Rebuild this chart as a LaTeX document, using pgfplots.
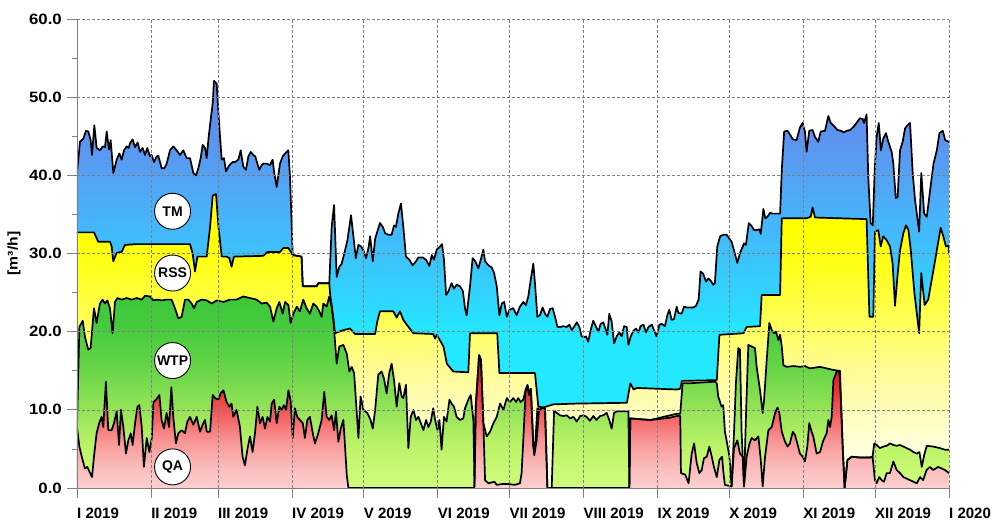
\documentclass[border=0pt]{standalone}
\usepackage{fontspec}
\setmainfont{Liberation Sans}
\newfontfamily\widefont[FakeStretch=1.12]{Liberation Sans}
\usepackage{pgfplots}
\usepackage{pgfplotstable}
\pgfplotsset{compat=1.18}

% vertical shadings: 25bp = y 0, 75bp = maximum of each line
\pgfdeclareverticalshading{qashade}{100bp}{rgb(0bp)=(0.988,0.816,0.816); rgb(25bp)=(0.988,0.816,0.816); rgb(33.8bp)=(0.980,0.725,0.725); rgb(42.6bp)=(0.973,0.588,0.588); rgb(51.5bp)=(0.961,0.392,0.392); rgb(60.3bp)=(0.933,0.216,0.216); rgb(69.1bp)=(0.894,0.098,0.098); rgb(100bp)=(0.894,0.098,0.098)}
\pgfdeclareverticalshading{wtpshade}{100bp}{rgb(0bp)=(0.816,0.988,0.490); rgb(25bp)=(0.816,0.988,0.490); rgb(35.2bp)=(0.745,0.957,0.412); rgb(45.3bp)=(0.588,0.894,0.345); rgb(55.5bp)=(0.412,0.839,0.282); rgb(65.7bp)=(0.282,0.800,0.243); rgb(75bp)=(0.235,0.776,0.227); rgb(100bp)=(0.235,0.776,0.227)}
\pgfdeclareverticalshading{rssshade}{100bp}{rgb(0bp)=(1,1,0.933); rgb(25bp)=(1,1,0.933); rgb(31.6bp)=(1,1,0.863); rgb(38.3bp)=(1,0.988,0.725); rgb(44.9bp)=(1,0.988,0.588); rgb(51.6bp)=(1,1,0.392); rgb(62.2bp)=(1,1,0.118); rgb(68.9bp)=(1,1,0); rgb(100bp)=(1,1,0)}
\pgfdeclareverticalshading{tmshade}{100bp}{rgb(0bp)=(0.137,0.910,1); rgb(44.2bp)=(0.137,0.910,1); rgb(49bp)=(0.196,0.824,0.988); rgb(58.6bp)=(0.282,0.698,0.980); rgb(65.3bp)=(0.345,0.608,0.949); rgb(71.1bp)=(0.373,0.549,0.933); rgb(100bp)=(0.373,0.549,0.933)}

% day of year, cumulative level [m3/h]
\pgfplotstableread{
x y
0 40.3
1.26 44.3
2.65 44.7
3.77 45.7
4.74 45.6
5.72 44.5
6.28 42.6
7.26 46.4
8.23 43.5
9.63 43.2
10.74 43.7
11.72 43.6
12.42 45.6
13.39 43.3
14.09 44.5
15.21 40.3
16.6 42.0
17.72 42.8
18.7 42.0
19.67 43.2
20.79 43.7
21.63 43.5
22.19 44.1
23.3 44.6
24.28 43.6
25.39 44.2
26.37 43.0
27.49 43.5
28.46 42.6
29.44 43.5
30.56 42.4
31.25 42.6
32.23 41.7
33.35 42.4
34.05 42.5
35.44 40.9
36.56 40.9
37.53 41.5
38.93 43.2
40.32 43.7
41.72 43.2
43.11 42.6
44.51 43.2
45.9 42.2
47.3 42.2
48.7 40.3
49.81 40.0
50.79 40.9
51.77 42.2
52.6 43.9
53.58 43.5
54.28 42.2
55.11 44.9
55.95 47.1
56.79 49.2
57.35 52.1
58.46 51.7
59.58 46.2
60.56 42.0
61.53 42.2
62.37 40.5
63.77 41.3
65.17 41.7
66.14 41.7
67.53 42.0
68.51 43.2
69.63 41.1
70.74 40.7
71.72 42.4
72.7 43.0
73.81 42.6
74.65 42.4
75.49 41.5
76.32 40.7
77.3 41.3
78.0 41.5
79.39 41.5
80.79 41.3
81.9 42.0
82.46 40.5
83.58 38.5
84.97 41.5
86.09 42.4
87.07 42.8
88.46 43.2
89.16 39.8
90.3 29.8
94.0 29.6
94.5 25.8
100.3 25.8
101.0 26.2
105.6 26.2
106.6 33.4
107.6 36.2
108.7 27.0
109.8 28.3
110.8 28.7
112.2 30.4
113.2 31.7
114.7 34.9
115.7 32.2
116.7 29.4
117.8 31.1
118.9 30.9
119.9 30.4
121.0 29.4
122.0 30.7
122.7 32.2
123.8 29.0
124.8 31.9
125.7 32.8
126.8 33.9
128.0 33.4
129.0 32.6
130.3 32.4
131.7 32.4
132.7 33.6
133.5 33.4
134.5 35.1
135.6 36.4
136.6 33.4
137.7 29.6
139.1 29.2
140.5 28.5
141.9 29.0
142.9 29.5
144.7 29.5
146.1 29.2
147.5 28.4
148.5 29.8
149.4 29.2
150.6 30.5
151.7 30.8
152.8 31.2
153.6 29.2
154.5 24.7
155.4 25.1
156.8 26.2
157.8 25.5
158.9 26.0
160.3 25.8
161.5 25.2
162.4 23.0
163.1 22.1
164.5 25.8
165.6 29.4
166.7 29.0
168.0 28.1
169.0 29.2
170.1 30.5
170.8 29.0
172.2 28.5
173.6 28.2
174.6 27.5
175.7 25.8
176.8 22.1
177.8 23.6
178.8 23.8
179.9 21.9
181.0 22.8
182.6 23.0
184.0 22.1
185.4 23.2
186.8 23.8
187.9 23.4
188.9 24.5
189.9 26.6
191.0 28.7
191.7 26.2
192.7 21.9
193.8 22.1
194.9 23.1
195.9 22.3
196.9 21.9
198.0 22.9
199.1 23.0
200.1 21.9
201.1 20.6
202.2 20.6
203.6 20.7
205.0 20.6
206.1 20.9
207.1 20.2
208.0 20.6
209.2 21.2
210.3 20.6
211.2 19.4
212.2 19.3
213.1 19.4
214.0 18.7
215.0 20.2
216.1 21.4
217.3 20.6
218.2 20.0
219.2 21.0
220.3 21.2
221.4 20.2
222.0 19.6
222.8 22.3
223.8 21.3
224.8 18.5
225.9 19.4
227.0 19.9
228.0 19.4
229.0 20.7
230.1 20.6
230.8 18.3
231.8 19.4
232.9 20.1
234.0 20.4
235.0 19.9
235.9 20.7
237.1 20.9
238.2 19.9
239.2 20.6
240.6 20.9
241.5 20.2
242.6 19.4
243.8 20.9
244.7 21.0
246.1 20.7
247.1 22.1
247.9 22.8
248.9 21.5
249.9 21.6
251.0 23.2
251.7 22.4
253.1 22.3
254.1 23.2
255.2 23.1
256.6 23.1
258.0 23.1
259.1 23.3
260.2 24.1
261.0 27.7
262.1 27.4
263.3 26.4
264.3 26.8
265.3 26.5
266.3 26.0
267.0 26.2
268.0 30.9
269.2 32.2
270.5 32.4
271.9 32.4
274.0 31.5
275.0 30.4
276.4 28.8
277.5 30.0
279.2 31.3
280.0 31.1
281.2 33.9
282.4 33.5
283.4 33.0
284.5 33.0
285.6 33.1
286.2 32.5
287.3 35.7
288.1 34.5
289.0 34.7
290.1 35.2
291.2 35.1
292.9 35.1
294.3 35.1
295.0 40.7
296.0 45.6
297.4 45.7
298.5 45.2
299.6 44.6
301.2 44.5
302.6 46.1
303.7 46.7
304.7 45.6
305.4 43.0
306.5 45.7
307.9 45.8
308.9 44.9
310.3 44.3
311.3 45.6
313.1 45.7
314.5 47.6
315.5 46.7
316.9 46.3
318.3 45.8
319.7 45.7
321.0 45.5
322.2 45.7
323.6 45.8
325.0 46.2
326.3 46.7
327.7 47.3
328.9 47.2
329.4 46.7
330.5 47.8
331.2 39.8
332.2 33.9
333.1 33.6
333.9 40.7
334.7 44.9
335.6 46.7
336.5 43.2
337.5 44.7
338.6 45.4
339.6 44.3
341.0 43.0
341.7 41.5
342.7 37.1
343.5 37.2
344.5 43.2
345.6 44.3
346.6 46.0
347.6 46.4
348.7 46.7
349.8 40.3
350.8 36.8
352.5 32.8
353.4 40.3
354.6 35.1
355.7 34.7
357.1 38.1
358.5 41.5
359.9 43.2
361.0 45.4
362.4 45.7
363.4 44.5
364.8 44.3
365 44.2
}\tmdata

\pgfplotstableread{
x y
0 32.7
7.1 32.7
8.9 31.5
13.8 31.5
14.5 30.9
15.2 29.0
16.6 30.1
18.7 30.2
20.1 31.1
25.0 31.2
47.3 31.2
48.4 30.0
49.4 27.7
50.4 29.6
54.3 29.6
55.7 33.4
56.8 37.4
58.2 37.6
59.2 33.4
60.6 29.6
62.6 29.6
63.8 29.4
64.7 28.3
65.7 29.6
78.0 29.7
79.7 30.2
85.0 30.2
86.4 30.7
88.5 30.7
90.3 29.8
94.0 29.6
94.5 25.8
100.3 25.8
101.0 26.2
105.6 26.2
106.0 24.6
106.6 23.4
107.3 21.7
108.0 19.8
111.5 20.2
114.3 20.4
116.4 19.7
124.8 19.7
125.7 21.3
126.8 22.6
132.4 22.6
133.8 21.8
135.2 22.6
136.6 21.5
138.0 20.9
140.8 19.8
149.1 19.7
149.9 19.1
150.6 19.6
153.4 18.1
154.8 15.9
157.5 14.9
163.8 14.8
164.5 19.8
175.9 19.8
176.8 14.7
191.7 14.7
193.1 10.4
195.2 10.3
199.4 10.7
209.2 10.8
230.2 10.9
231.6 13.4
233.0 12.6
234.3 12.8
251.1 12.6
252.5 12.7
253.2 13.7
267.8 13.8
268.9 19.6
279.0 19.8
280.3 20.6
285.9 20.7
286.6 24.7
294.3 24.7
295.0 34.5
305.4 34.5
307.1 34.7
307.9 35.9
308.9 34.6
330.5 34.4
331.7 21.9
333.3 21.9
334.0 32.8
335.4 33.0
336.4 30.9
337.5 32.2
338.9 31.7
340.3 30.9
341.4 28.7
342.4 23.3
343.4 27.0
344.5 30.4
345.9 32.6
347.0 33.6
348.0 33.0
349.0 30.4
350.5 25.0
352.5 19.8
353.4 27.5
354.8 23.4
356.3 24.1
358.5 27.9
359.9 30.4
361.5 33.3
362.6 32.2
363.7 30.9
364.8 31.0
365 29.9
}\rssdata

\pgfplotstableread{
x y
0 7.8
1.0 20.6
2.4 21.4
3.3 19.4
4.7 17.7
5.7 17.9
7.1 23.0
8.2 21.1
9.6 23.6
10.7 24.1
11.7 23.6
12.7 24.0
13.8 23.0
14.9 19.8
15.9 23.8
16.9 24.3
18.7 24.1
20.8 24.3
22.9 24.1
25.0 24.3
27.1 24.1
28.5 24.6
30.6 24.5
32.0 24.0
33.6 24.1
35.4 24.0
37.5 24.1
39.6 24.1
41.0 23.0
42.4 21.7
43.8 21.9
45.2 24.1
46.6 24.1
48.0 23.6
49.0 23.0
50.1 23.8
52.2 24.1
54.3 24.0
56.4 23.6
58.5 24.0
61.3 23.8
64.0 24.1
66.8 24.1
69.6 24.5
72.4 24.3
75.2 24.1
77.3 23.6
79.4 23.7
80.8 23.2
82.2 21.3
83.6 23.0
84.7 23.8
86.1 22.3
87.1 23.8
88.5 23.4
89.4 21.1
90.6 22.3
92.0 23.2
93.3 22.6
94.7 24.1
96.1 23.0
97.5 22.3
98.9 23.6
100.3 23.2
101.4 22.6
102.4 21.9
103.1 23.6
104.5 23.2
105.6 24.5
106.6 23.2
107.3 21.5
108.7 15.9
109.8 18.1
111.5 18.3
112.9 17.2
114.0 14.9
115.0 15.5
116.0 14.7
117.8 6.4
118.7 11.7
119.9 10.0
121.5 9.6
122.9 8.7
123.8 7.6
124.8 10.0
126.1 14.5
127.5 14.9
128.5 14.0
129.6 12.1
130.7 14.7
131.7 15.9
132.7 13.8
133.8 10.4
134.9 13.4
135.9 11.7
136.6 11.5
137.7 13.2
138.7 5.1
139.7 9.1
140.8 10.0
141.9 8.7
142.9 9.1
143.9 8.3
145.0 7.4
146.1 8.7
147.1 7.8
148.1 8.5
149.1 10.2
149.9 8.7
150.9 7.4
151.7 8.7
152.6 4.9
153.6 9.1
154.7 8.5
155.9 11.3
156.8 10.8
157.8 10.4
158.9 9.1
160.3 8.7
161.7 8.9
162.4 10.2
163.8 11.3
164.8 11.9
165.9 8.7
166.4 0.2
166.9 10.4
168.3 17.0
169.1 16.4
170.1 8.3
171.5 6.6
172.9 7.2
174.3 8.3
175.7 9.1
177.1 10.8
178.5 10.0
179.9 11.5
181.2 11.0
182.6 11.5
183.8 11.0
184.7 11.5
185.7 11.0
186.8 11.3
187.9 12.7
188.6 13.2
189.2 12.1
190.0 12.7
191.0 5.5
191.6 4.6
192.7 10.2
193.8 10.0
194.9 10.3
195.9 10.2
196.9 0.0
198.7 0.0
199.7 9.9
200.8 9.6
202.2 9.3
203.6 9.2
205.0 9.3
206.4 8.9
207.8 9.1
209.2 8.5
210.6 9.2
212.0 9.3
213.3 9.1
214.7 8.6
216.1 9.2
217.5 8.7
218.9 9.2
220.3 9.3
221.7 9.6
222.8 8.7
223.8 7.6
224.8 9.6
225.9 9.8
230.8 9.8
231.2 0.0
231.6 8.9
240.0 8.7
245.5 9.1
248.3 9.3
251.1 9.5
252.5 9.5
253.5 13.4
256.6 13.4
267.1 13.6
267.8 13.4
268.4 11.7
269.8 10.4
270.5 10.6
271.2 7.2
271.9 6.1
273.1 4.0
274.0 0.2
275.0 7.0
275.8 13.4
276.8 17.9
277.5 17.7
278.2 7.0
279.2 0.2
280.0 9.1
281.0 18.3
282.4 18.1
283.8 17.9
284.5 15.5
285.9 12.5
287.0 9.6
287.6 11.3
288.7 16.4
289.8 21.1
290.8 20.2
291.8 19.8
292.6 20.0
293.6 18.9
294.3 19.6
295.0 18.1
295.7 15.7
297.1 15.5
299.9 15.6
302.7 15.5
304.7 15.6
306.8 15.3
311.0 15.5
313.8 15.3
316.6 15.1
318.7 15.0
319.4 15.0
319.7 11.7
320.5 5.3
321.3 0.0
322.5 3.6
324.3 4.0
327.8 3.9
331.9 3.9
333.0 4.0
333.7 5.7
334.7 5.5
336.1 5.1
337.5 5.3
338.9 5.4
340.3 5.7
341.7 5.5
343.1 5.4
344.5 5.5
345.9 5.3
347.3 5.1
348.7 4.9
350.1 4.6
351.5 4.4
352.6 4.6
353.6 2.7
354.6 4.2
355.7 5.4
358.4 5.3
361.2 5.1
363.3 4.9
365 4.9
}\wtpdata

\pgfplotstableread{
x y
0 7.8
1.0 5.3
2.0 4.0
3.3 2.5
4.3 2.7
5.2 2.1
6.3 1.4
7.1 4.0
8.2 7.0
9.3 8.3
10.3 9.1
11.0 7.8
12.1 13.6
13.1 7.4
14.5 7.4
15.5 8.3
16.6 9.8
17.6 5.5
18.4 10.0
19.4 7.8
20.5 4.4
21.5 6.1
22.5 7.0
23.3 5.5
24.3 8.3
25.3 10.4
26.1 10.6
27.1 7.8
28.0 2.7
29.2 6.4
30.3 4.6
31.3 6.4
32.0 11.0
33.1 11.3
34.5 11.9
35.4 8.7
36.4 7.6
37.5 9.6
38.5 7.8
39.5 12.9
40.3 9.1
41.4 5.7
42.4 7.0
43.8 7.4
45.2 7.0
46.2 8.5
47.3 9.1
48.7 8.1
50.1 9.1
51.5 7.2
52.6 8.1
53.6 8.7
54.3 7.2
55.7 7.2
56.8 11.9
57.8 11.5
59.2 11.3
60.1 12.1
61.3 12.5
62.6 11.0
63.8 10.4
64.7 10.8
65.4 9.1
66.8 10.0
68.2 7.8
69.3 4.0
70.3 2.9
71.3 4.9
72.4 6.6
73.5 4.6
74.5 7.0
75.5 10.4
76.6 8.3
77.7 9.1
78.7 7.6
79.7 9.1
80.8 8.5
81.5 10.8
82.5 11.3
83.6 8.3
84.7 10.4
85.7 10.0
86.6 10.6
87.5 10.0
88.5 12.5
89.4 11.2
90.3 6.4
91.2 10.2
92.2 9.1
93.3 8.7
94.5 8.3
95.4 6.4
96.4 8.7
97.5 9.1
98.7 7.0
99.6 5.7
101.0 7.0
102.4 8.7
103.5 12.3
104.5 9.1
105.6 8.7
106.6 9.3
107.6 7.4
108.4 9.8
109.4 5.9
110.4 7.6
111.5 8.7
112.2 5.3
112.9 1.7
113.6 0.0
166.3 0.0
166.9 10.4
168.3 17.0
169.1 16.4
170.1 8.3
170.8 1.0
172.2 0.6
174.7 0.8
175.7 0.4
177.8 0.5
180.6 0.5
183.3 0.4
185.4 0.6
186.1 1.9
186.8 6.1
187.8 12.5
188.6 13.0
189.2 11.9
190.0 12.5
191.0 5.3
191.4 4.2
192.4 6.1
193.4 10.0
194.5 10.2
195.9 10.2
196.9 0.0
231.2 0.0
231.6 8.9
240.0 8.7
245.5 8.9
248.3 9.0
251.1 9.2
252.5 9.2
252.8 1.9
254.6 1.7
256.0 0.6
257.3 4.4
258.3 5.7
259.4 3.2
260.5 1.9
261.5 2.3
262.4 3.8
263.6 4.0
264.7 5.3
265.7 4.0
266.6 2.7
267.8 1.4
268.9 3.6
270.0 4.0
270.6 1.9
271.2 0.4
274.0 0.2
275.0 5.1
276.4 6.1
277.5 4.4
278.7 4.0
279.2 0.2
280.3 4.0
281.5 5.7
282.4 6.4
283.8 6.1
285.2 6.6
286.2 3.6
287.0 0.2
288.0 4.0
289.4 7.4
290.8 7.8
292.2 9.6
293.2 10.3
294.0 9.6
295.0 7.2
296.4 5.9
297.4 5.3
298.4 5.7
299.6 7.2
300.5 6.8
301.5 5.7
302.6 4.4
303.8 4.0
304.7 3.4
305.7 5.3
306.5 8.3
307.5 7.2
308.2 6.6
309.6 4.4
311.0 4.6
312.4 6.1
313.8 7.0
314.5 8.7
315.2 7.8
315.9 9.1
316.6 13.8
318.0 14.9
319.1 14.9
319.7 11.7
320.5 5.3
321.3 0.0
322.5 3.6
324.3 4.0
327.8 3.9
331.9 3.9
333.0 4.0
334.0 1.0
334.7 0.6
335.8 1.4
336.8 1.0
337.8 0.8
338.9 1.9
340.3 1.9
341.7 3.4
343.1 2.3
344.5 1.9
345.9 1.4
347.3 1.2
348.7 1.0
350.1 0.8
351.5 0.6
352.9 1.4
354.2 1.0
355.6 2.3
357.0 2.7
358.4 2.3
360.5 2.7
361.9 2.5
363.3 2.3
365.0 1.9
}\qadata

\begin{document}
\begin{tikzpicture}
\useasboundingbox (-77pt,-33pt) rectangle (916pt,488pt);
\begin{axis}[
  at={(0pt,0pt)}, anchor=south west,
  width=872pt, height=469pt, scale only axis,
  xmin=0, xmax=365, ymin=0, ymax=60,
  axis lines*=left,
  axis on top,
  no marks,
  xtick={0,31,59,90,120,151,181,212,243,273,304,334,365},
  xticklabels={I 2019,II 2019,III 2019,IV 2019,V 2019,VI 2019,VII 2019,VIII 2019,IX 2019,X 2019,XI 2019,XII 2019,I 2020},
  ytick={0,10,20,30,40,50,60},
  yticklabels={0.0,10.0,20.0,30.0,40.0,50.0,60.0},
  minor ytick={5,15,25,35,45,55},
  grid=major,
  major grid style={draw=gray, line width=0.6pt, dash pattern=on 3pt off 2pt},
  minor grid style={draw=none},
  tick align=outside,
  major tick length=10pt,
  minor tick length=5pt,
  tick style={draw=gray, line width=0.7pt},
  axis line style={draw=gray, line width=0.8pt},
  x tick label style={font=\bfseries\fontsize{15}{17}\selectfont, anchor=north west, inner sep=0pt, yshift=-9.5pt, xshift=0pt},
  y tick label style={font=\widefont\bfseries\fontsize{15}{17}\selectfont, anchor=east, inner sep=0pt, xshift=-5pt},
  ylabel={[m³/h]},
  ylabel style={font=\widefont\bfseries\fontsize{14}{16}\selectfont, at={(axis description cs:-0.0722,0.5)}, anchor=center},
  every axis plot/.append style={line join=round},
]
\addplot[draw=none, shade, shading=tmshade] table {\tmdata} \closedcycle;
\addplot[draw=none, shade, shading=rssshade] table {\rssdata} \closedcycle;
\addplot[draw=none, shade, shading=wtpshade] table {\wtpdata} \closedcycle;
\addplot[draw=none, shade, shading=qashade] table {\qadata} \closedcycle;
\addplot[black, line width=1.7pt] table {\tmdata};
\addplot[black, line width=1.7pt] table {\rssdata};
\addplot[black, line width=1.7pt] table {\wtpdata};
\addplot[black, line width=1.7pt] table {\qadata};
\coordinate (tmL) at (axis cs:40,35.4);
\coordinate (rssL) at (axis cs:40,27.5);
\coordinate (wtpL) at (axis cs:40,16.3);
\coordinate (qaL) at (axis cs:40,2.7);
\end{axis}
\tikzset{lab/.style={circle, draw=black, line width=0.9pt, fill=white, minimum size=36pt, inner sep=0pt, font=\bfseries\fontsize{14}{16}\selectfont}}
\node[lab] at (tmL) {TM};
\node[lab] at (rssL) {RSS};
\node[lab] at (wtpL) {WTP};
\node[lab] at (qaL) {QA};
\end{tikzpicture}
\end{document}
